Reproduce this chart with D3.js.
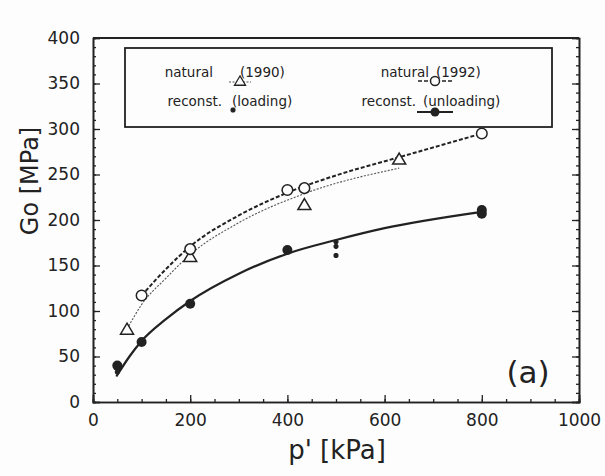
<!DOCTYPE html>
<html>
<head>
<meta charset="utf-8">
<script src="https://cdn.jsdelivr.net/npm/d3@7"></script>
<style>
  body { margin: 0; background: #fdfdfd; }
  text { font-family: "DejaVu Sans", sans-serif; fill: #222; }
</style>
</head>
<body>
<div id="container"></div>
<script>
// measured points, [p' kPa, Go MPa]
let natural1990 = [[70, 80], [200, 160], [435, 217], [630, 267]];
let natural1992 = [[100, 117], [200, 168], [400, 233], [435, 235], [800, 295]];
let reconstUnloading = [[50, 40], [100, 66], [200, 108], [400, 167], [800, 207], [800, 211]];
let reconstLoading = [[50, 33], [500, 161], [500, 171], [500, 176], [800, 213]];

// fitted curves
let fit1990 = [[70, 80], [100, 107], [150, 136], [200, 162], [300, 197], [435, 229], [630, 257]];
let fit1992 = [[100, 117], [150, 146], [200, 171], [300, 205], [400, 230], [500, 249], [630, 269], [800, 295]];
let fitReconst = [[48, 28], [75, 50], [100, 67], [150, 91], [200, 111], [300, 141], [400, 163], [500, 178], [600, 191], [800, 209]];

let xMajor = [0, 200, 400, 600, 800, 1000];
let yMajor = [0, 50, 100, 150, 200, 250, 300, 350, 400];

let w = 605;
let h = 476;
let padLeft = 93, padRight = 579, padTop = 38, padBottom = 402;

let viz = d3.select("#container")
  .append("svg")
    .attr("width", w)
    .attr("height", h)
;

let xScale = d3.scaleLinear().domain([0, 1000]).range([padLeft, padRight]);
let yScale = d3.scaleLinear().domain([0, 400]).range([padBottom, padTop]);

let ink = "#222";

// minor ticks first
let xMinor = d3.range(0, 1001, 50);
let yMinor = d3.range(0, 401, 10);

viz.append("g")
    .attr("transform", "translate(0," + padBottom + ")")
    .call(d3.axisBottom(xScale).tickValues(xMinor).tickSize(-3).tickFormat(""))
;
viz.append("g")
    .attr("transform", "translate(" + padLeft + ",0)")
    .call(d3.axisLeft(yScale).tickValues(yMinor).tickSize(-3).tickFormat(""))
;
viz.append("g")
    .attr("transform", "translate(" + padRight + ",0)")
    .call(d3.axisRight(yScale).tickValues(yMinor).tickSize(-3).tickFormat(""))
;

// major ticks with labels
let xAxisGroup = viz.append("g")
    .attr("transform", "translate(0," + padBottom + ")")
    .call(d3.axisBottom(xScale).tickValues(xMajor).tickSize(-7).tickPadding(11).tickFormat(d3.format("d")))
;
xAxisGroup.selectAll("text").attr("font-size", "17px").attr("dy", "0.75em");

let yAxisGroup = viz.append("g")
    .attr("transform", "translate(" + padLeft + ",0)")
    .call(d3.axisLeft(yScale).tickValues(yMajor).tickSize(-7).tickPadding(13).tickFormat(d3.format("d")))
;
yAxisGroup.selectAll("text").attr("font-size", "17px");

viz.append("g")
    .attr("transform", "translate(" + padRight + ",0)")
    .call(d3.axisRight(yScale).tickValues(yMajor).tickSize(-7).tickFormat(""))
;

viz.selectAll(".domain").attr("stroke", ink).attr("stroke-width", 1.6);
viz.selectAll(".tick line").attr("stroke", ink).attr("stroke-width", 1.3);
viz.selectAll(".tick text").style("font-family", "'DejaVu Sans', sans-serif").attr("fill", ink);

// top edge of the frame
viz.append("line")
    .attr("x1", padLeft).attr("x2", padRight)
    .attr("y1", padTop).attr("y2", padTop)
    .attr("stroke", ink).attr("stroke-width", 1.8)
;

// curves
let line = d3.line()
    .x(function(d){ return xScale(d[0]); })
    .y(function(d){ return yScale(d[1]); })
    .curve(d3.curveMonotoneX)
;

let graphgroup = viz.append("g").attr("class", "graphgroup");

graphgroup.append("path")
    .datum(fit1990)
    .attr("d", line)
    .attr("fill", "none")
    .attr("stroke", "#555")
    .attr("stroke-width", 1.1)
    .attr("stroke-dasharray", "2,1.5")
;
graphgroup.append("path")
    .datum(fit1992)
    .attr("d", line)
    .attr("fill", "none")
    .attr("stroke", ink)
    .attr("stroke-width", 2)
    .attr("stroke-dasharray", "4,2")
;
graphgroup.append("path")
    .datum(fitReconst)
    .attr("d", line)
    .attr("fill", "none")
    .attr("stroke", ink)
    .attr("stroke-width", 2.2)
;

// markers
let triPath = "M0,-6L6.5,5L-6.5,5Z";

graphgroup.selectAll(".tri").data(natural1990).enter()
  .append("path")
    .attr("class", "tri")
    .attr("d", triPath)
    .attr("transform", function(d){ return "translate(" + xScale(d[0]) + "," + yScale(d[1]) + ")"; })
    .attr("fill", "#fdfdfd")
    .attr("stroke", ink)
    .attr("stroke-width", 1.5)
;
graphgroup.selectAll(".ocirc").data(natural1992).enter()
  .append("circle")
    .attr("class", "ocirc")
    .attr("cx", function(d){ return xScale(d[0]); })
    .attr("cy", function(d){ return yScale(d[1]); })
    .attr("r", 5.3)
    .attr("fill", "#fdfdfd")
    .attr("stroke", ink)
    .attr("stroke-width", 1.5)
;
graphgroup.selectAll(".fcirc").data(reconstUnloading).enter()
  .append("circle")
    .attr("class", "fcirc")
    .attr("cx", function(d){ return xScale(d[0]); })
    .attr("cy", function(d){ return yScale(d[1]); })
    .attr("r", 5)
    .attr("fill", ink)
;
let starPath = "M-2.5,0L2.5,0M0,-2.5L0,2.5M-1.8,-1.8L1.8,1.8M-1.8,1.8L1.8,-1.8";
graphgroup.selectAll(".star").data(reconstLoading).enter()
  .append("path")
    .attr("class", "star")
    .attr("d", starPath)
    .attr("transform", function(d){ return "translate(" + xScale(d[0]) + "," + yScale(d[1]) + ")"; })
    .attr("stroke", ink)
    .attr("stroke-width", 1.8)
;

// legend
let legend = viz.append("g").attr("class", "legend");
legend.append("rect")
    .attr("x", 125).attr("y", 48)
    .attr("width", 427).attr("height", 79)
    .attr("fill", "#fdfdfd")
    .attr("stroke", ink)
    .attr("stroke-width", 1.8)
;

let legendText = [
  {t: "natural", x: 213, y: 77, a: "end"},
  {t: "(1990)", x: 240, y: 77, a: "start"},
  {t: "natural", x: 429, y: 77, a: "end"},
  {t: "(1992)", x: 436, y: 77, a: "start"},
  {t: "reconst.", x: 222, y: 106, a: "end"},
  {t: "(loading)", x: 232, y: 106, a: "start"},
  {t: "reconst.", x: 416, y: 106, a: "end"},
  {t: "(unloading)", x: 423, y: 106, a: "start"}
];
legend.selectAll(".ltext").data(legendText).enter()
  .append("text")
    .attr("class", "ltext")
    .attr("x", function(d){ return d.x; })
    .attr("y", function(d){ return d.y; })
    .attr("text-anchor", function(d){ return d.a; })
    .attr("font-size", "13.5px")
    .text(function(d){ return d.t; })
;

legend.append("line").attr("x1", 229).attr("x2", 251).attr("y1", 82).attr("y2", 82)
    .attr("stroke", "#555").attr("stroke-width", 1.1).attr("stroke-dasharray", "2,1.5");
legend.append("path").attr("d", triPath).attr("transform", "translate(240,81) scale(0.85)")
    .attr("fill", "#fdfdfd").attr("stroke", ink).attr("stroke-width", 1.5);

legend.append("line").attr("x1", 418).attr("x2", 452).attr("y1", 81).attr("y2", 81)
    .attr("stroke", ink).attr("stroke-width", 1.6).attr("stroke-dasharray", "4,2");
legend.append("circle").attr("cx", 435).attr("cy", 81).attr("r", 4.5)
    .attr("fill", "#fdfdfd").attr("stroke", ink).attr("stroke-width", 1.5);

legend.append("path").attr("d", starPath).attr("transform", "translate(233,110)")
    .attr("stroke", ink).attr("stroke-width", 1.8);

legend.append("line").attr("x1", 417).attr("x2", 453).attr("y1", 112).attr("y2", 112)
    .attr("stroke", ink).attr("stroke-width", 1.8);
legend.append("circle").attr("cx", 435).attr("cy", 112).attr("r", 4.5).attr("fill", ink);

// labels
viz.append("text")
    .attr("transform", "translate(38,181) rotate(-90)")
    .attr("text-anchor", "middle")
    .attr("font-size", "24px")
    .text("Go [MPa]")
;
viz.append("text")
    .attr("x", 337).attr("y", 459)
    .attr("text-anchor", "middle")
    .attr("font-size", "26px")
    .text("p' [kPa]")
;
viz.append("text")
    .attr("x", 528).attr("y", 383)
    .attr("text-anchor", "middle")
    .attr("font-size", "31px")
    .text("(a)")
;
</script>
</body>
</html>
